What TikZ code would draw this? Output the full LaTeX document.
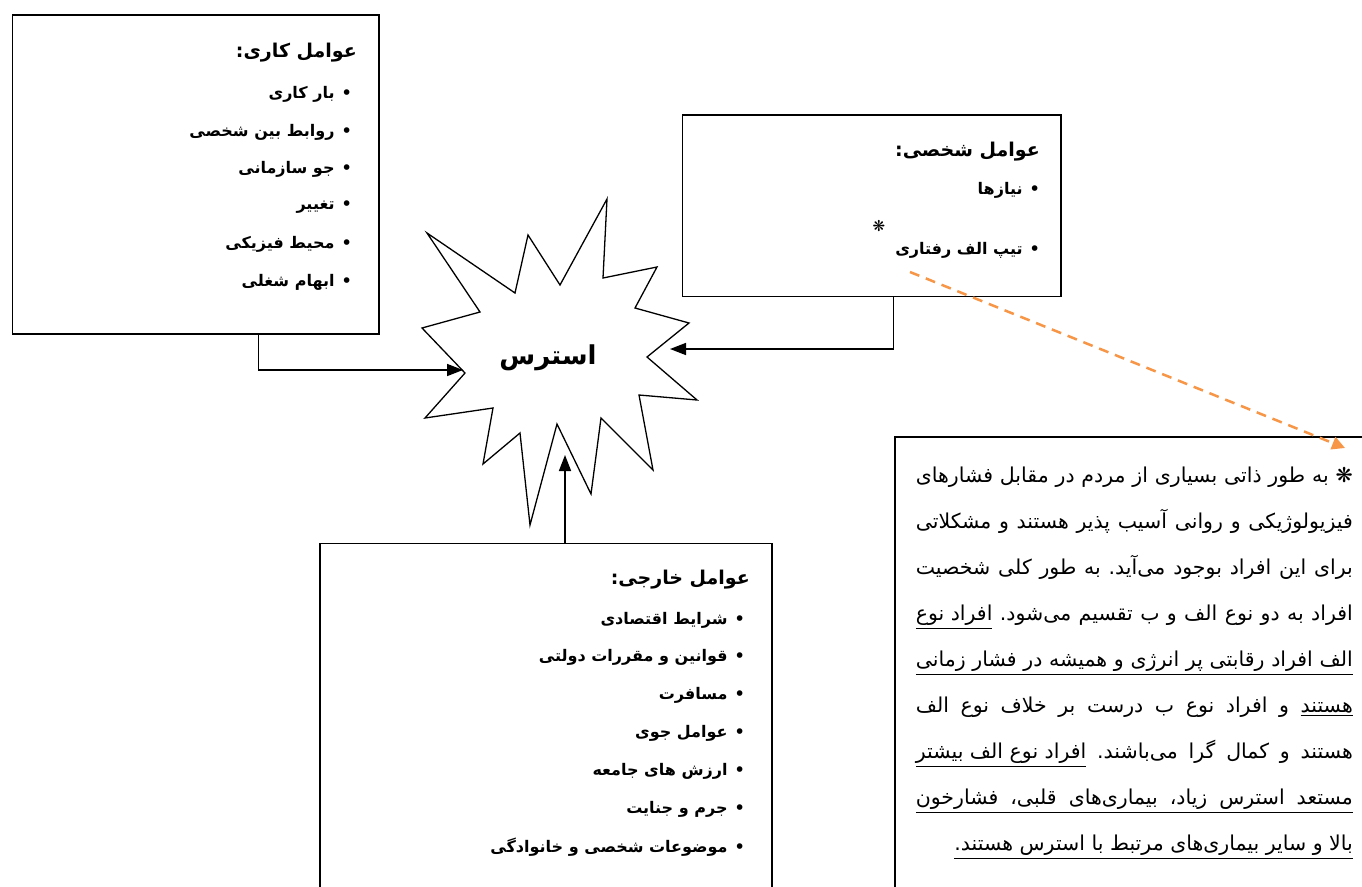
\documentclass[tikz,border=0pt]{standalone}
\usepackage{fontspec}
\usetikzlibrary{arrows.meta}
\TeXXeTstate=1
\frenchspacing
\newfontfamily\ar[Script=Arabic]{DejaVu Sans}
\definecolor{hintorange}{HTML}{F79646}
\newcommand{\bul}[1]{\beginR•\hspace{7pt}#1\endR}
\newcommand{\rtl}[1]{\beginR #1\endR}
\newcommand{\ulr}[1]{\vtop{\hbox{\beginR #1\endR}\kern2.5pt\hrule height 0.8pt}}
\newcommand{\jline}[1]{\hbox to 437pt{\beginR #1\endR}}
\newcommand{\ujline}[1]{\vtop{\hbox to 437pt{\beginR #1\endR}\kern2.5pt\hrule height 0.8pt}}
\begin{document}
\begin{tikzpicture}[x=1pt,y=-1pt,
  box/.style={draw, line width=1.6pt, inner sep=0, anchor=north west},
  title/.style={font=\ar\bfseries\fontsize{19}{22}\selectfont, inner sep=0, anchor=east},
  item/.style={font=\ar\bfseries\fontsize{16}{19}\selectfont, inner sep=0, anchor=east},
  conn/.style={line width=1.6pt, -{Triangle[length=16pt,width=12pt]}},
  starline/.style={line width=1.3pt, line join=miter},
  hint/.style={draw=hintorange, line width=2.5pt, dash pattern=on 10pt off 7pt, -{Triangle[length=13pt,width=13pt,fill=hintorange]}}]
\clip (0,0) rectangle (1362,886);
\fill[white] (0,0) rectangle (1362,886);
% boxes
\node[box, minimum width=366.6pt, minimum height=319.3pt] (work) at (11.7,14) {};
\node[box, minimum width=378.3pt, minimum height=181.7pt] (pers) at (681.7,114) {};
\node[box, minimum width=451.7pt, minimum height=400pt] (ext) at (319.3,542.7) {};
\node[box, minimum width=520pt, minimum height=500pt] (note) at (894,436) {};
% starburst
\draw[starline] (607,199) -- (603,278) -- (657,267) -- (635,308) -- (689,323) -- (647,357)
  -- (697,400) -- (639,395) -- (653,470) -- (601,418) -- (591,494) -- (557,424)
  -- (530,525) -- (520,433) -- (483,464) -- (493,408) -- (425,418) -- (465,373)
  -- (422,328) -- (480,312) -- (427,233) -- (515,293) -- (528,235) -- (560,285) -- cycle;
\node[font=\ar\bfseries\fontsize{26}{30}\selectfont, inner sep=0] (stress) at (548,358) {\rtl{استرس}};
% work factors
\node[title] (wt) at (357,53) {\rtl{عوامل کاری:}};
\node[item] (w1) at (352,94.5) {\bul{بار کاری}};
\node[item] (w2) at (352,132) {\bul{روابط بین شخصی}};
\node[item] (w3) at (352,169.5) {\bul{جو سازمانی}};
\node[item] (w4) at (352,207) {\bul{تغییر}};
\node[item] (w5) at (352,244.5) {\bul{محیط فیزیکی}};
\node[item] (w6) at (352,282) {\bul{ابهام شغلی}};
% personal factors
\node[title] (pt) at (1040,152) {\rtl{عوامل شخصی:}};
\node[item] (p1) at (1040,190) {\bul{نیازها}};
\node[item] (p2) at (1040,250) {\bul{تیپ الف رفتاری}};
\node[font=\ar\bfseries\fontsize{15}{17}\selectfont, inner sep=0] (star) at (879,226) {❋};
% external factors
\node[title] (et) at (750,580) {\rtl{عوامل خارجی:}};
\node[item] (e1) at (745,620) {\bul{شرایط اقتصادی}};
\node[item] (e2) at (745,657.8) {\bul{قوانین و مقررات دولتی}};
\node[item] (e3) at (745,695.6) {\bul{مسافرت}};
\node[item] (e4) at (745,733.4) {\bul{عوامل جوی}};
\node[item] (e5) at (745,771.2) {\bul{ارزش های جامعه}};
\node[item] (e6) at (745,809) {\bul{جرم و جنایت}};
\node[item] (e7) at (745,846.8) {\bul{موضوعات شخصی و خانوادگی}};
% note text
\node[inner sep=0, anchor=base east, font=\ar\fontsize{20.5}{46}\selectfont] (notetext) at (1353,482) {%
\begin{minipage}[t]{437pt}\baselineskip=46pt\frenchspacing
\jline{❋ به طور ذاتی بسیاری از مردم در مقابل فشارهای}
\jline{فیزیولوژیکی و روانی آسیب پذیر هستند و مشکلاتی}
\jline{برای این افراد بوجود می‌آید. به طور کلی شخصیت}
\jline{افراد به دو نوع الف و ب تقسیم می‌شود. \ulr{افراد نوع}}
\ujline{الف افراد رقابتی پر انرژی و همیشه در فشار زمانی}
\jline{\ulr{هستند} و افراد نوع ب درست بر خلاف نوع الف}
\jline{هستند و کمال گرا می‌باشند. \ulr{افراد نوع الف بیشتر}}
\ujline{مستعد استرس زیاد، بیماری‌های قلبی، فشارخون}
\hbox to 437pt{\hfill\ulr{بالا و سایر بیماری‌های مرتبط با استرس هستند.}}
\end{minipage}};
% connectors
\coordinate (tipL) at (463,370);
\coordinate (tipR) at (670,349);
\coordinate (tipB) at (565,455);
\draw[conn] ([xshift=246.6pt]work.south west) |- (tipL);
\draw[conn] ([xshift=211.6pt]pers.south west) |- (tipR);
\draw[conn] (tipB |- ext.north) -- (tipB);
\coordinate (dashS) at (910,272);
\coordinate (dashE) at (1345,448);
\draw[hint] (dashS) -- (dashE);
\end{tikzpicture}
\end{document}
